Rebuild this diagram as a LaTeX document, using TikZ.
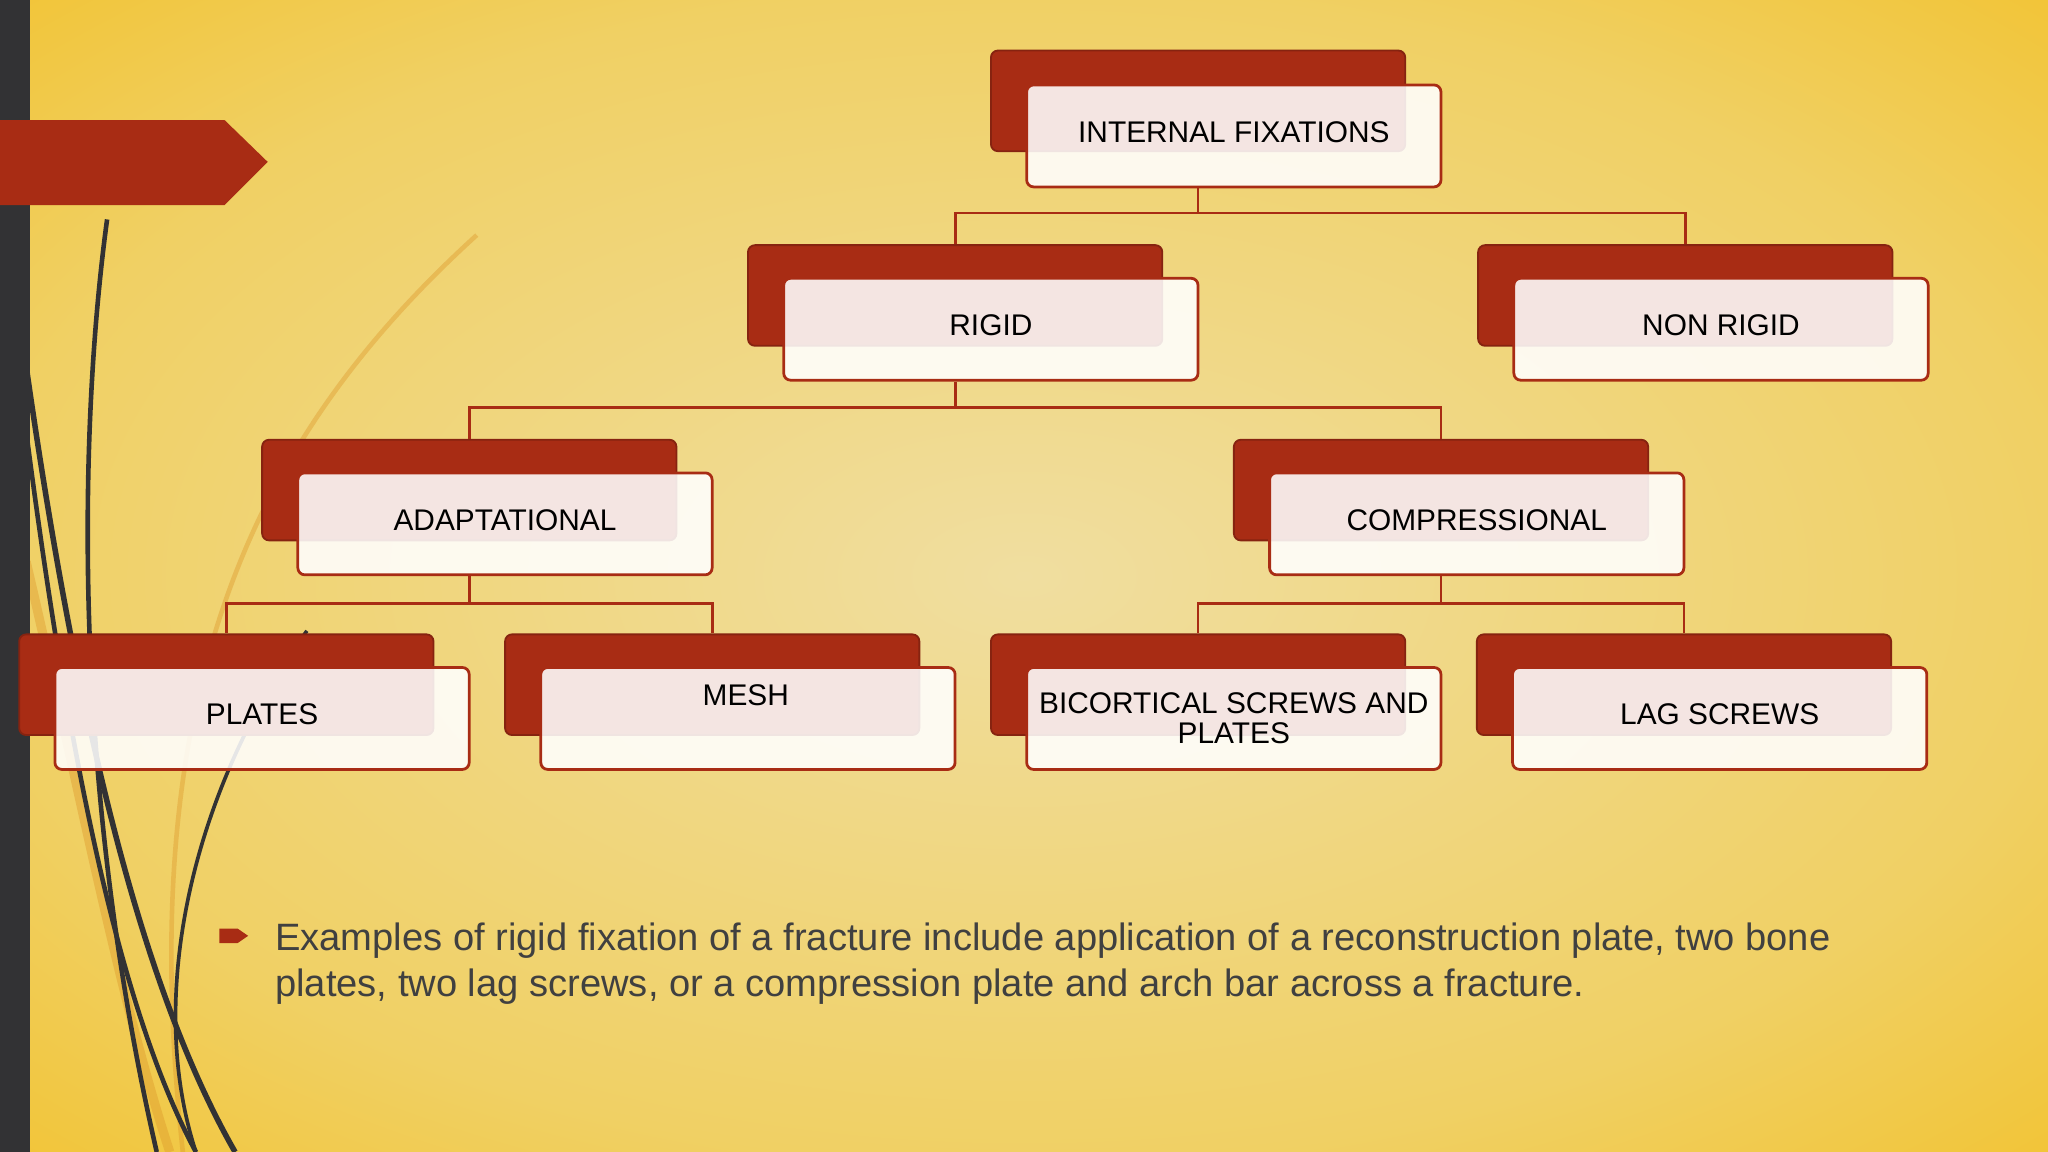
\documentclass[tikz,border=0pt]{standalone}
\usepackage{fontspec}
\setmainfont{Liberation Sans}
\usetikzlibrary{calc}
\definecolor{rust}{RGB}{168,44,20}
\definecolor{bgin}{RGB}{240,222,160}
\definecolor{bgmid}{RGB}{240,208,100}
\definecolor{bgout}{RGB}{242,195,50}
\definecolor{darkbar}{RGB}{50,50,52}
\definecolor{txt}{RGB}{64,64,64}
\pgfdeclareradialshading{bgshade}{\pgfpoint{0cm}{0cm}}{color(0cm)=(bgin);color(0.9cm)=(bgmid);color(1.3cm)=(bgout);color(2cm)=(bgout)}
\tikzset{
 back/.style={fill=rust,draw=rust!80!black,rounded corners=1.5pt,minimum width=3.17cm,minimum height=0.77cm,anchor=north west,inner sep=0pt},
 front/.style={fill=white,fill opacity=0.88,text opacity=1,draw=rust,line width=0.6pt,rounded corners=1.5pt,minimum width=3.17cm,minimum height=0.78cm,anchor=north west,inner sep=0pt},
 lbl/.style={font=\fontsize{6.5}{6.5}\selectfont,text=black,align=center},
 onel/.style={lbl,text depth=1.7pt},
 conn/.style={draw=rust,line width=0.6pt}
}
\begin{document}
\begin{tikzpicture}[x=0.01cm,y=-0.01cm]
\useasboundingbox (0,0) rectangle (1568,882);
\shade[shading=bgshade] (0,0) rectangle (1568,882);
\begin{scope}
\clip (0,0) rectangle (1568,882);
\draw[bgout!70!rust,opacity=0.4,line width=1pt] (365,180) .. controls (200,330) and (100,520) .. (140,882);
\draw[bgout!70!rust,opacity=0.4,line width=2pt] (20,430) .. controls (60,600) and (90,760) .. (130,882);
\draw[darkbar,line width=1pt] (82,168) .. controls (60,330) and (55,600) .. (120,882);
\draw[darkbar,line width=1.2pt] (20,280) .. controls (60,560) and (110,760) .. (180,882);
\draw[darkbar,line width=1pt] (20,330) .. controls (55,600) and (95,780) .. (150,882);
\draw[darkbar,line width=0.8pt] (235,483) .. controls (150,600) and (110,760) .. (150,882);
\end{scope}
\fill[darkbar] (0,0) rectangle (23,882);
\fill[rust] (0,92) -- (172,92) -- (205,124) -- (172,157) -- (0,157) -- cycle;
\node[back] (intB) at (758,38) {};
\node[front,onel] (intF) at (785,64) {INTERNAL FIXATIONS};
\node[back] (rigB) at (572,187) {};
\node[front,onel] (rigF) at (599,212) {RIGID};
\node[back] (nrB) at (1131,187) {};
\node[front,onel] (nrF) at (1158,212) {NON RIGID};
\node[back] (adB) at (200,336) {};
\node[front,onel] (adF) at (227,361) {ADAPTATIONAL};
\node[back] (coB) at (944,336) {};
\node[front,onel] (coF) at (971,361) {COMPRESSIONAL};
\node[back] (plB) at (14,485) {};
\node[front,onel] (plF) at (41,510) {PLATES};
\node[back] (meB) at (386,485) {};
\node[front] (meF) at (413,510) {};
\node[lbl] (meT) at (571,532) {MESH};
\node[back] (biB) at (758,485) {};
\node[front,lbl] (biF) at (785,510) {BICORTICAL SCREWS AND\\PLATES};
\node[back] (laB) at (1130,485) {};
\node[front,onel] (laF) at (1157,510) {LAG SCREWS};
\draw[conn] (intB.center |- intF.south) -- (intB.center |- 0,163) -| (rigB.north);
\draw[conn] (intB.center |- 0,163) -| (nrB.north);
\draw[conn] (rigB.center |- rigF.south) -- (rigB.center |- 0,312) -| (adB.north);
\draw[conn] (rigB.center |- 0,312) -| (coB.north);
\draw[conn] (adB.center |- adF.south) -- (adB.center |- 0,462) -| (plB.north);
\draw[conn] (adB.center |- 0,462) -| (meB.north);
\draw[conn] (coB.center |- coF.south) -- (coB.center |- 0,462) -| (biB.north);
\draw[conn] (coB.center |- 0,462) -| (laB.north);
\fill[rust] (168,711) -- (182,711) -- (190,716.5) -- (182,722) -- (168,722) -- cycle;
\node[anchor=north west,inner sep=0pt,text=txt,align=left,font=\fontsize{8.3}{9.9}\selectfont] (bul) at (210,706)
 {Examples of rigid fixation of a fracture include application of a reconstruction plate, two bone\\plates, two lag screws, or a compression plate and arch bar across a fracture.};
\end{tikzpicture}
\end{document}
